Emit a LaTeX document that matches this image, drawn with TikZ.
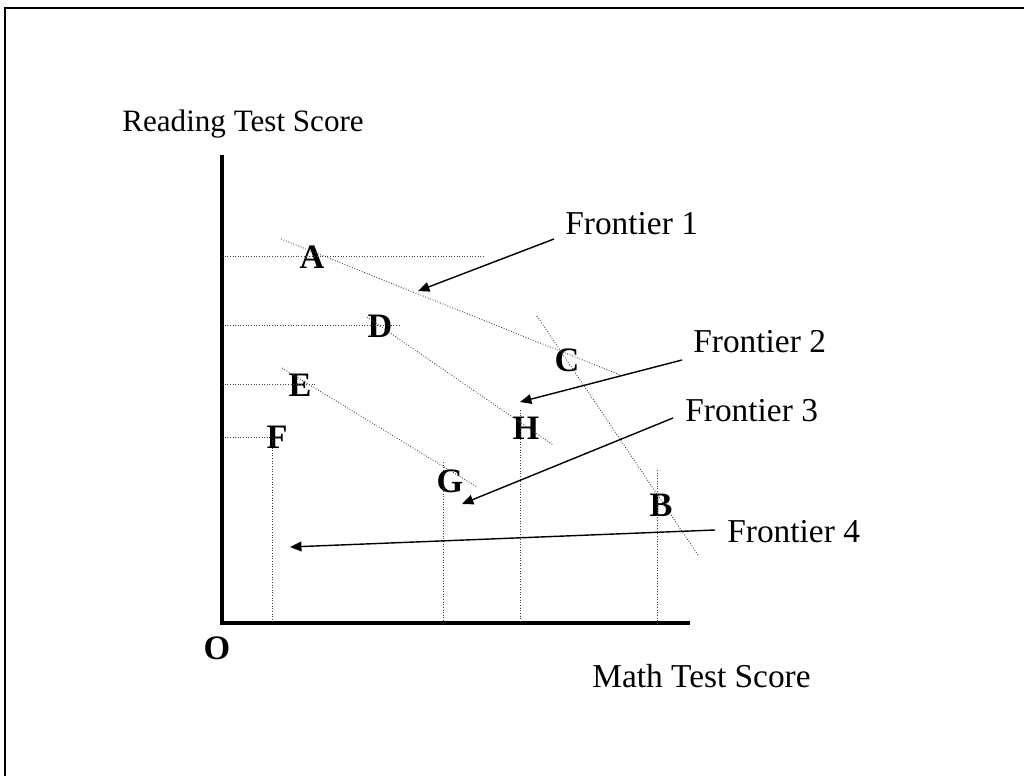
\documentclass[tikz,border=0pt]{standalone}
\usepackage{fontspec}
\setmainfont{Liberation Serif}
\usetikzlibrary{arrows.meta}

\begin{document}
\begin{tikzpicture}[x=0.02cm, y=-0.02cm,
    guide/.style={densely dotted, line width=0.5pt, black!75},
    frontier/.style={densely dotted, line width=0.5pt, black!75},
    pointer/.style={line width=0.8pt, -{Triangle[length=6.5pt, width=5.5pt]}},
    axis/.style={line width=2.3pt, line join=miter},
    letter/.style={font=\fontsize{19.5}{22}\selectfont\bfseries, inner sep=0pt, anchor=base},
    caption/.style={font=\fontsize{19}{22}\selectfont, inner sep=0pt, anchor=base west}
]

\useasboundingbox (0,0) rectangle (1024,776);

% outer frame (runs off the page right and below)
\draw[line width=1.3pt] (5,800) -- (5,8) -- (1024,8);

% axes
\coordinate (O) at (222,623);
\coordinate (ytop) at (222,155);
\coordinate (xend) at (690,623);
\draw[axis] (ytop) -- (O) -- (xend);

% axis labels
\node[caption, font=\fontsize{17.7}{22}\selectfont] (ylabel) at (122,132) {Reading Test Score};
\node[caption] (xlabel) at (592,687) {Math Test Score};
\node[letter] (origin) at (217,659) {O};

% points
\node[letter] (A) at (312,269) {A};
\node[letter] (B) at (661,517) {B};
\node[letter] (C) at (567,372) {C};
\node[letter] (D) at (380,338) {D};
\node[letter] (E) at (300,397) {E};
\node[letter] (F) at (277,449) {F};
\node[letter] (G) at (450,493) {G};
\node[letter] (H) at (526,440) {H};

% horizontal guides to the reading axis
\foreach \y/\xe in {256/485, 325/400, 384/315, 437/272}{
    \draw[guide] (222,\y) -- (\xe,\y);
}

% vertical guides to the math axis
\foreach \x/\ys in {272/437, 443/462, 520/410, 657/470}{
    \draw[guide] (\x,\ys) -- (\x,623);
}

% frontier lines
\coordinate (f1a) at (281,239);
\coordinate (f1b) at (620,375);
\coordinate (cba) at (537,316);
\coordinate (cbb) at (698,555);
\coordinate (dha) at (367,317);
\coordinate (dhb) at (553,445);
\coordinate (ega) at (282,368);
\coordinate (egb) at (477,487);
\draw[frontier] (f1a) -- (f1b);
\draw[frontier] (cba) -- (cbb);
\draw[frontier] (dha) -- (dhb);
\draw[frontier] (ega) -- (egb);

% frontier labels
\node[caption] (fr1) at (565,235) {Frontier 1};
\node[caption] (fr2) at (693,353) {Frontier 2};
\node[caption] (fr3) at (685,422) {Frontier 3};
\node[caption] (fr4) at (727,542) {Frontier 4};

% arrow ends
\coordinate (s1) at (554,239);
\coordinate (s2) at (682,360);
\coordinate (s3) at (673,418);
\coordinate (s4) at (715,530);
\coordinate (t1) at (418,291);
\coordinate (t2) at (520,402);
\coordinate (t3) at (462,504);
\coordinate (t4) at (290,547);

\draw[pointer] (s1) -- (t1);
\draw[pointer] (s2) -- (t2);
\draw[pointer] (s3) -- (t3);
\draw[pointer] (s4) -- (t4);

\end{tikzpicture}
\end{document}
